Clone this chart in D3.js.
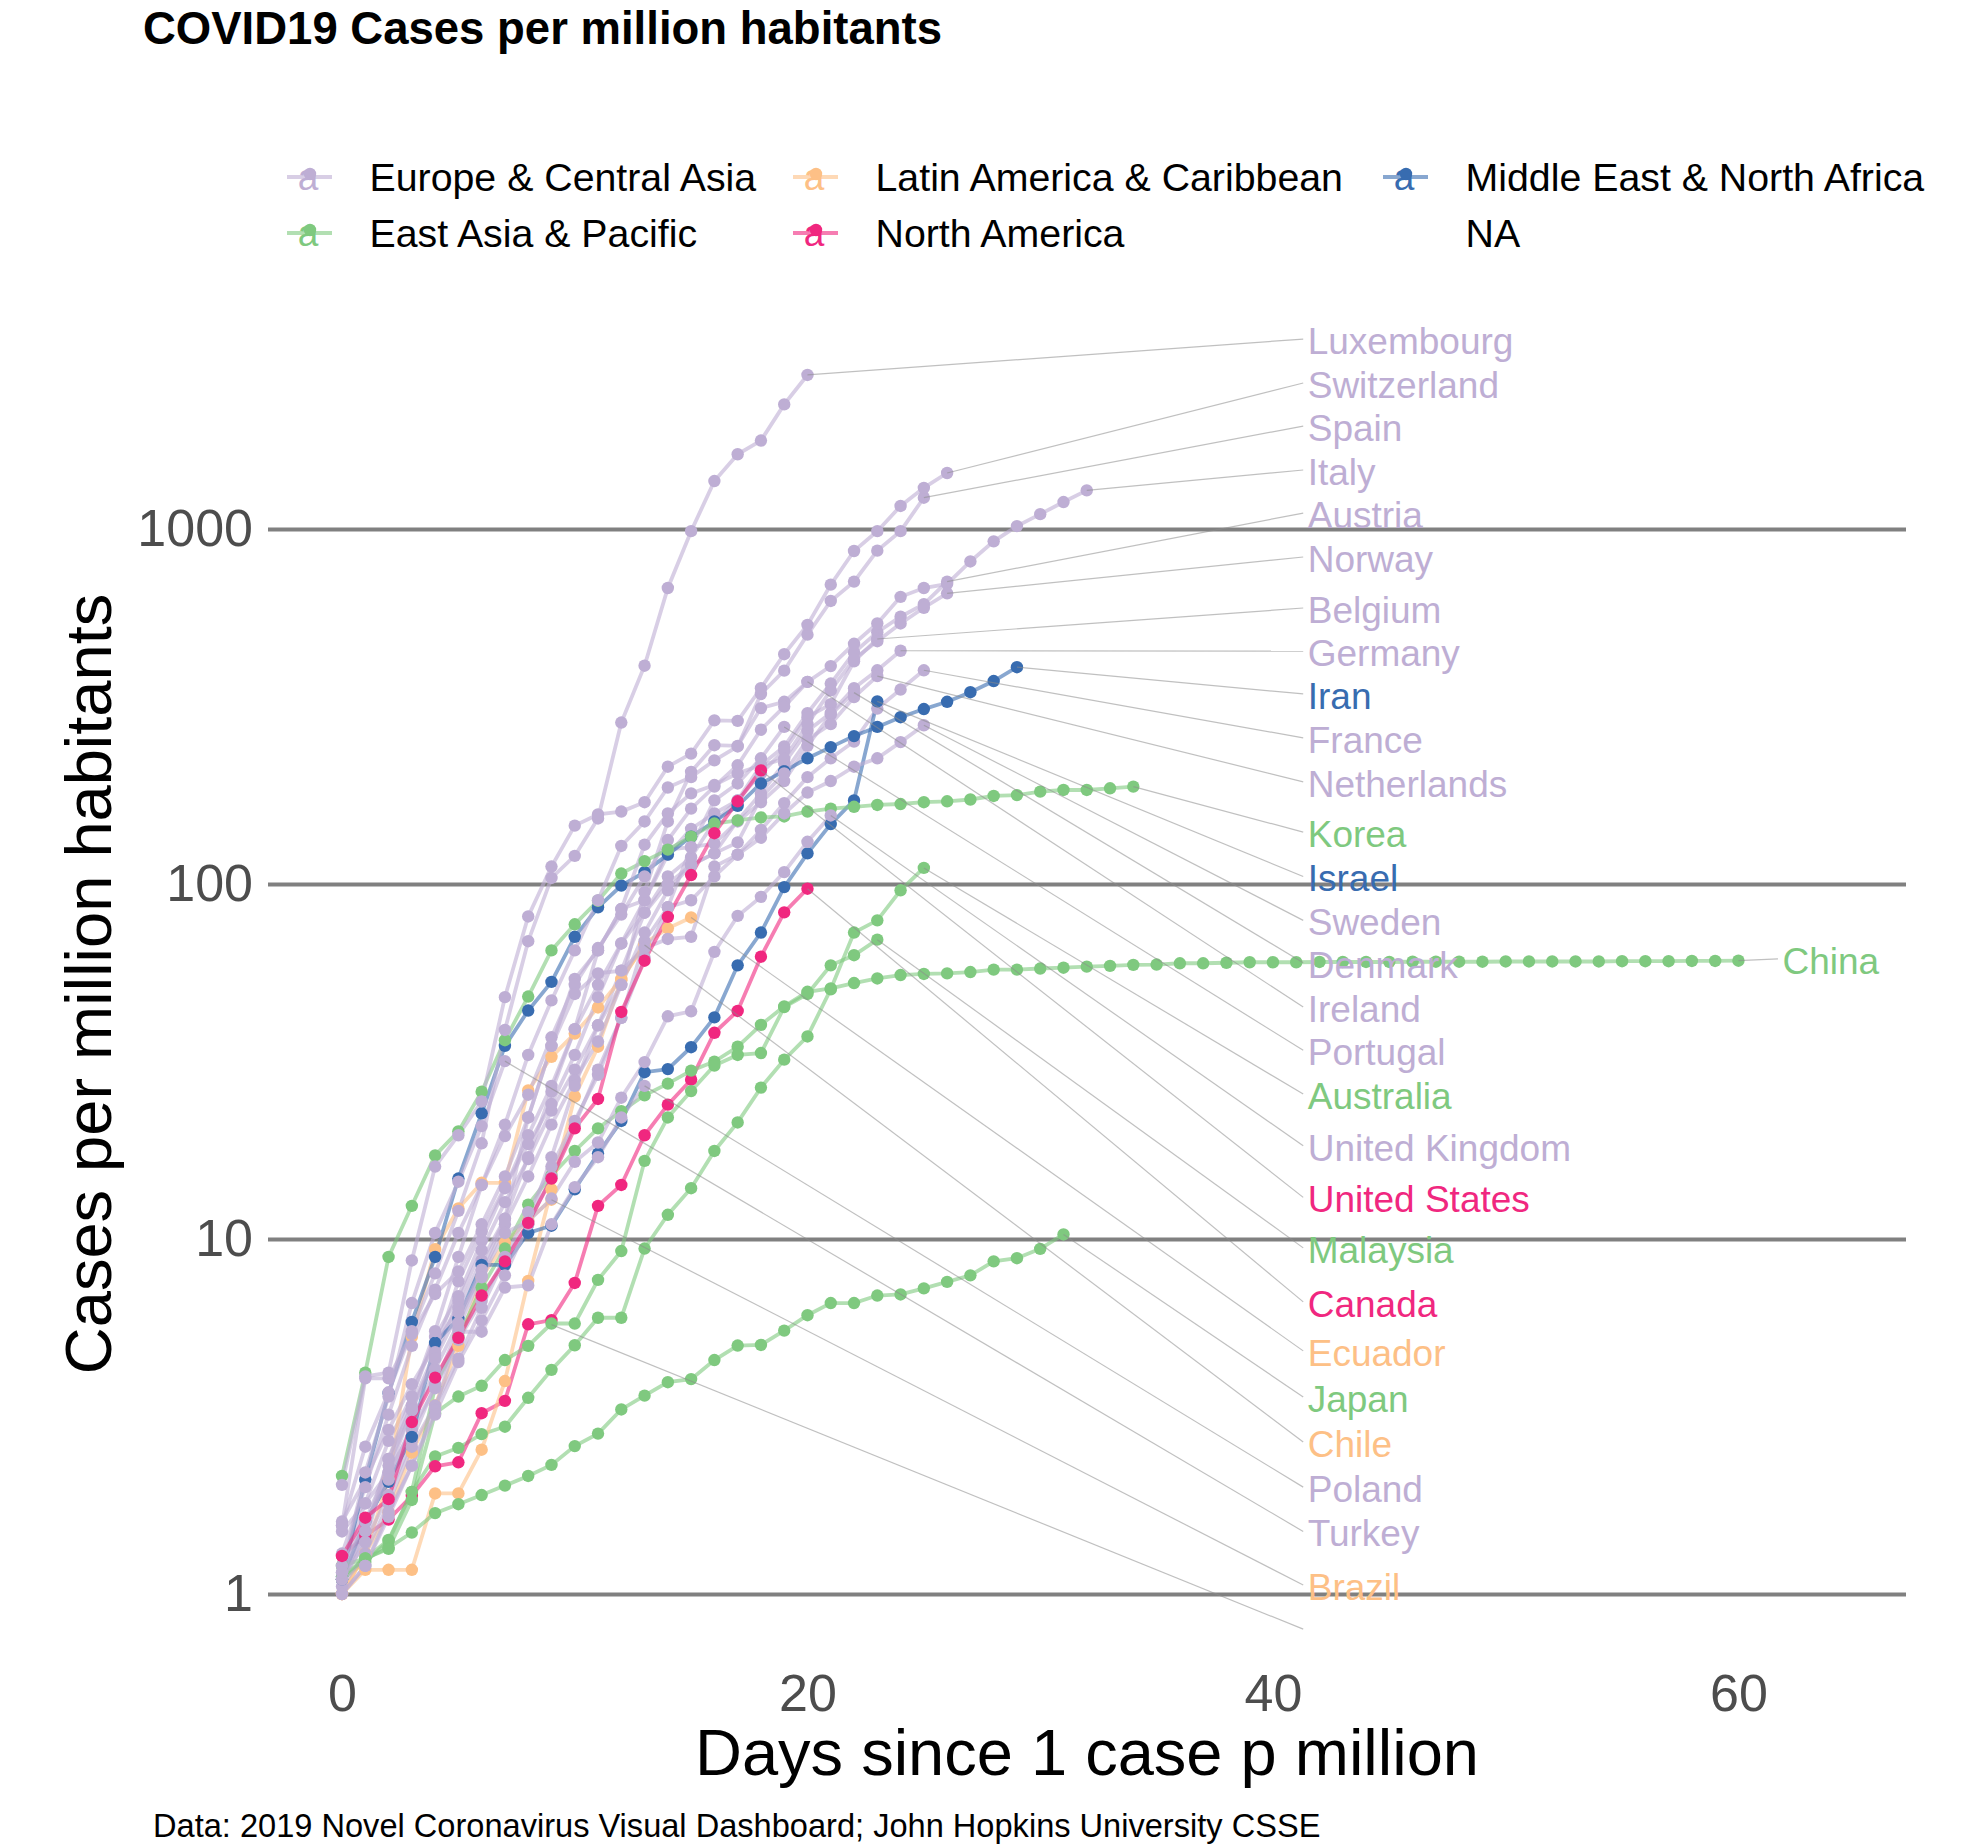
<!DOCTYPE html>
<html>
<head>
<meta charset="utf-8">
<script src="https://cdn.jsdelivr.net/npm/d3@7"></script>
<style>
  html, body { margin: 0; padding: 0; background: #fff; }
  text { font-family: "Liberation Sans", Arial, sans-serif; }
</style>
</head>
<body>
<svg id="chart" width="1984" height="1846"></svg>
<script>
// cases per million, one value per day since the 1 case p million mark
const australia = [1.1, 1.23, 1.41, 1.94, 2.44, 2.58, 2.82, 2.96, 3.57, 4.28, 5.02, 6, 6, 9.4, 11.7, 13.9, 17.7, 21.3, 26.7, 32, 37.2, 50.5, 73, 79, 96, 111]
const austria = [1.2, 1.8, 2.7, 3.6, 5.3, 6.9, 9.9, 13.9, 19.6, 27, 39, 52, 68, 90, 121, 143, 158, 172, 216, 244, 303, 367, 449, 512, 566, 614, 711]
const belgium = [1.1, 1.5, 2.2, 3.3, 4.7, 6.7, 9.3, 12.7, 16.8, 23, 30, 40, 57, 83, 105, 119, 150, 172, 205, 238, 295, 321, 424, 490]
const brazil = [1, 1.3, 1.7, 2.5, 3.4, 5, 7.8, 9.75, 11.3, 12.9]
const canada = [1.28, 1.46, 1.62, 1.89, 2.29, 2.35, 3.23, 3.5, 5.75, 5.91, 7.52, 12.4, 14.2, 19.6, 23.9, 28.1, 38.1, 43.9, 62.4, 83.2, 97]
const chile = [1, 1.3, 2.1, 5.3, 9.36, 12.2, 14.4, 14.4, 26.2, 32.6, 37.9, 44.9, 54, 67.3]
const china = [1.1, 1.26, 1.42, 1.94, 3.84, 5.3, 7.3, 9.4, 12.5, 15.1, 17.7, 20.5, 22.9, 25.4, 27.4, 29.8, 31.6, 34.8, 40.1, 45.2, 49.7, 50.8, 52.6, 54.2, 55.4, 55.8, 56, 56.5, 57.4, 57.4, 57.8, 58.1, 58.5, 58.8, 59.2, 59.3, 59.8, 59.8, 60, 60.2, 60.2, 60.2, 60.3, 60.3, 60.3, 60.3, 60.4, 60.4, 60.4, 60.4, 60.5, 60.5, 60.5, 60.5, 60.5, 60.6, 60.6, 60.6, 60.7, 60.7, 60.8]
const denmark = [1.6, 2.1, 2.9, 3.9, 5, 6.4, 8.7, 11.4, 22, 35, 54, 65, 85, 90, 125, 127, 130, 150, 170, 195, 245, 300, 346]
const ecuador = [1, 1.17, 1.17, 1.17, 1.92, 1.92, 2.55, 3.98, 7.62, 13.8, 25.2, 34.8, 53.6, 68, 75, 80.5]
const france = [1.5, 1.8, 2.2, 2.9, 3.8, 5.2, 6.7, 8.9, 11.9, 16, 21.5, 29, 42, 69, 86, 90, 105, 121, 142, 169, 200, 226, 252, 312, 353, 400]
const germany = [1.1, 1.4, 1.9, 2.7, 3.9, 5.6, 7.9, 11, 15, 21, 28, 36, 52, 73, 96, 113, 122, 151, 180, 219, 270, 303, 356, 400, 454]
const iran = [1.12, 2.1, 3.68, 5.84, 8.9, 14.8, 22.6, 35, 44, 53, 71, 86, 99, 108, 121, 136, 150, 166, 192, 208, 226, 243, 261, 277, 295, 311, 326, 347, 373, 408]
const ireland = [1.05, 1.3, 1.8, 2.6, 3.4, 4.6, 6.4, 8.8, 11, 17, 27, 40, 52, 95, 150, 207, 246, 245, 313, 326, 371]
const israel = [1.1, 1.6, 2.07, 2.77, 5.1, 5.96, 8.45, 8.45, 10.4, 10.9, 13.8, 17.4, 21.5, 29.5, 30.1, 34.7, 42.1, 59, 73, 98, 122, 147.5, 172, 327]
const italy = [1.3, 2, 3.2, 5, 7.2, 10.4, 14.2, 19.5, 25.5, 37, 52, 66, 82, 105, 133, 163, 188, 216, 272, 316, 371, 411, 475, 542, 644, 682, 700, 810, 923, 1019, 1101, 1191, 1285]
const japan = [1.2, 1.26, 1.35, 1.49, 1.69, 1.79, 1.9, 2.02, 2.15, 2.31, 2.61, 2.83, 3.31, 3.62, 3.95, 4.03, 4.56, 5.01, 5.03, 5.52, 6.1, 6.6, 6.6, 6.93, 6.98, 7.26, 7.57, 7.9, 8.65, 8.83, 9.38, 10.3]
const korea = [2.15, 4.2, 8.9, 12.4, 17.2, 20.1, 26, 36.3, 48.2, 65, 77, 89.7, 107, 116, 125, 136, 148, 151, 154, 155, 160, 163, 165, 167, 168, 170, 171, 173, 177, 178, 182, 184, 184, 186, 188]
const luxembourg = [1.56, 2.6, 3.7, 5.5, 8, 12, 18.6, 38.8, 69, 104, 120, 153, 285, 412, 682, 986, 1365, 1624, 1775, 2244, 2716]
const malaysia = [1.12, 1.26, 1.34, 1.84, 3.23, 3.6, 3.86, 4.56, 5, 5.78, 5.78, 7.67, 9.25, 16.6, 22, 26.1, 30.8, 33, 33.4, 45, 49, 59, 63, 69.7]
const netherlands = [1.1, 1.5, 2.4, 3.4, 4.8, 7.6, 10.5, 14, 18.5, 24, 33, 48, 68, 83, 100, 113, 122, 131, 175, 205, 255, 282, 336, 385]
const norway = [1.2, 1.6, 2.1, 3, 4.3, 5.8, 8.2, 11.4, 17, 26, 39, 65, 85, 129, 158, 180, 190, 205, 216, 225, 282, 351, 430, 483, 542, 600, 659]
const poland = [1, 1.2, 1.65, 2.3, 3.3, 5.48, 5.48, 7.3, 7.4, 11, 14, 17, 22, 27]
const portugal = [1, 1.2, 1.7, 2.3, 3.2, 4.5, 5.9, 7.9, 11, 15, 21, 30, 42, 62, 86, 127, 172, 192, 226, 277]
const spain = [1.1, 1.4, 2.4, 3.6, 5.5, 8.9, 14.2, 21, 33, 47, 65, 90, 128, 150, 187, 200, 223, 244, 343, 399, 504, 627, 711, 869, 986, 1225]
const sweden = [1.56, 4.05, 4.05, 5.4, 7, 8.1, 11, 15, 22, 35, 49, 56, 57, 66, 70, 71, 112, 121, 135, 158, 181, 195, 214, 226, 251, 280]
const switzerland = [2.03, 4.1, 4.2, 8.7, 16, 19.6, 24.4, 48, 81, 112, 146, 157, 160, 170, 214, 233, 289, 288, 356, 444, 537, 697, 867, 986, 1161, 1306, 1438]
const turkey = [1.15, 2.2, 3.6, 6.6, 10.4, 14.5, 20.8, 31.7]
const unitedKingdom = [1.15, 1.6, 2.3, 3.3, 4.6, 6.2, 7.8, 10.4, 11.2, 13, 16.5, 18.7, 25, 31.5, 42.4, 43.8, 64.4, 81.3, 92, 108, 131.5, 156]
const unitedStates = [1.28, 1.64, 1.85, 3.05, 4.07, 5.27, 6.93, 8.65, 11.1, 14.8, 20.5, 24.8, 43.6, 60.8, 80.8, 106, 139, 171, 209]

const countryNames = ['Australia', 'Austria', 'Belgium', 'Brazil', 'Canada', 'Chile', 'China', 'Denmark', 'Ecuador', 'France', 'Germany', 'Iran', 'Ireland', 'Israel', 'Italy', 'Japan', 'Korea', 'Luxembourg', 'Malaysia', 'Netherlands', 'Norway', 'Poland', 'Portugal', 'Spain', 'Sweden', 'Switzerland', 'Turkey', 'United Kingdom', 'United States']
const countryValues = [australia, austria, belgium, brazil, canada, chile, china, denmark, ecuador, france, germany, iran, ireland, israel, italy, japan, korea, luxembourg, malaysia, netherlands, norway, poland, portugal, spain, sweden, switzerland, turkey, unitedKingdom, unitedStates]

const EAP = 'East Asia & Pacific'
const ECA = 'Europe & Central Asia'
const LAC = 'Latin America & Caribbean'
const MNA = 'Middle East & North Africa'
const NAM = 'North America'
const countryRegions = [EAP, ECA, ECA, LAC, NAM, LAC, EAP, ECA, LAC, ECA, ECA, MNA, ECA, MNA, ECA, EAP, EAP, ECA, EAP, ECA, ECA, ECA, ECA, ECA, ECA, ECA, ECA, ECA, NAM]

// height of each repelled label, in cases per million
const labelLevels = [25.6, 1109, 599, 1.06, 6.65, 2.68, 61.5, 60, 4.84, 258, 453, 343, 45, 105, 1466, 3.59, 140, 3428, 9.44, 194, 834, 2, 34, 1950, 79, 2578, 1.5, 18.3, 13.1]

// the series without a region has an invisible colour, only its segment shows
const naLastDay = 9
const naLastValue = 5.74
const naLabelLevel = 0.796

const legendOrder = [ECA, EAP, LAC, NAM, MNA, 'NA']
const regionColors = [ECA, EAP, LAC, NAM, MNA]
const accent = ['#BEAED4', '#7FC97F', '#FDC086', '#F0277F', '#386CB0']

const xTicks = [0, 20, 40, 60]
const yTicks = [1, 10, 100, 1000]

const svg = d3.select('#chart')

const x = d3.scaleLinear()
  .domain([-3.18, 67.2])
  .range([268, 1906])

const y = d3.scaleLog()
  .domain([1, 1000])
  .range([1594, 529])

const color = d3.scaleOrdinal()
  .domain(regionColors)
  .range(accent)

const series = countryNames.map(function (name, i) {
  return {
    name: name,
    region: countryRegions[i],
    level: labelLevels[i],
    values: countryValues[i].map(function (v, day) { return { day: day, value: v } })
  }
})

// gridlines come from the y axis ticks
svg.append('g')
  .attr('class', 'y-axis')
  .attr('transform', 'translate(268,0)')
  .call(d3.axisLeft(y)
    .tickValues(yTicks)
    .tickFormat(d3.format('d'))
    .tickSize(-1638)
    .tickPadding(15))
  .call(function (g) { g.select('.domain').remove() })
  .call(function (g) {
    g.selectAll('line').attr('stroke', '#808080').attr('stroke-width', 3.8)
    g.selectAll('text').style('font-size', '52px').attr('fill', '#4d4d4d')
  })

svg.append('g')
  .attr('class', 'x-axis')
  .attr('transform', 'translate(0,1660)')
  .call(d3.axisBottom(x)
    .tickValues(xTicks)
    .tickSize(0)
    .tickPadding(14))
  .call(function (g) { g.select('.domain').remove() })
  .call(function (g) {
    g.selectAll('text').style('font-size', '52px').attr('fill', '#4d4d4d')
  })

const line = d3.line()
  .x(function (d) { return x(d.day) })
  .y(function (d) { return y(d.value) })

// lines first, then every point above them
svg.append('g')
  .selectAll('path')
  .data(series)
  .join('path')
  .attr('d', function (d) { return line(d.values) })
  .attr('fill', 'none')
  .attr('stroke', function (d) { return color(d.region) })
  .attr('stroke-width', 3.8)
  .attr('stroke-opacity', 0.6)

svg.append('g')
  .selectAll('g')
  .data(series)
  .join('g')
  .selectAll('circle')
  .data(function (d) { return d.values.map(function (v) { return { day: v.day, value: v.value, region: d.region } }) })
  .join('circle')
  .attr('cx', function (d) { return x(d.day) })
  .attr('cy', function (d) { return y(d.value) })
  .attr('r', 6.2)
  .attr('fill', function (d) { return color(d.region) })

// label segments and labels
const labelDay = 41.3
const chinaLabelDay = 61.7
function labelX (d) { return x(d.name === 'China' ? chinaLabelDay : labelDay) }

const segments = series.map(function (d) {
  const last = d.values[d.values.length - 1]
  return { x1: x(last.day), y1: y(last.value), x2: labelX(d), y2: y(d.level) }
})
segments.push({ x1: x(naLastDay), y1: y(naLastValue), x2: x(labelDay), y2: y(naLabelLevel) })

svg.append('g')
  .selectAll('line')
  .data(segments)
  .join('line')
  .attr('x1', function (d) { return d.x1 })
  .attr('y1', function (d) { return d.y1 })
  .attr('x2', function (d) { return d.x2 })
  .attr('y2', function (d) { return d.y2 })
  .attr('stroke', '#8c8c8c')
  .attr('stroke-width', 1.2)
  .attr('stroke-opacity', 0.55)

svg.append('g')
  .selectAll('text')
  .data(series)
  .join('text')
  .attr('x', function (d) { return labelX(d) + 4.5 })
  .attr('y', function (d) { return y(d.level) + 2 })
  .attr('dy', '0.35em')
  .style('font-size', '37px')
  .attr('fill', function (d) { return color(d.region) })
  .text(function (d) { return d.name })

// legend, filled column by column
const legendColumns = [310, 816, 1406]
const legendRows = [177, 233]
const legendTextOffset = 59.5

const legend = svg.append('g')
  .selectAll('g')
  .data(legendOrder)
  .join('g')
  .attr('transform', function (d, i) {
    return 'translate(' + legendColumns[Math.floor(i / 2)] + ',' + legendRows[i % 2] + ')'
  })

const legendKeys = legend.filter(function (d) { return d !== 'NA' })

legendKeys.append('line')
  .attr('x1', -23)
  .attr('x2', 22)
  .attr('stroke', function (d) { return color(d) })
  .attr('stroke-width', 3.8)
  .attr('stroke-opacity', 0.6)

legendKeys.append('text')
  .attr('x', -2)
  .attr('y', 13)
  .attr('text-anchor', 'middle')
  .style('font-size', '37px')
  .attr('fill', function (d) { return color(d) })
  .text('a')

legendKeys.append('circle')
  .attr('cy', -3)
  .attr('r', 6.2)
  .attr('fill', function (d) { return color(d) })

legend.append('text')
  .attr('x', legendTextOffset)
  .attr('dy', '0.35em')
  .style('font-size', '39.3px')
  .attr('fill', '#000')
  .text(function (d) { return d })

// titles
svg.append('text')
  .attr('x', 143)
  .attr('y', 44)
  .style('font-size', '45.5px')
  .style('font-weight', 'bold')
  .text('COVID19 Cases per million habitants')

svg.append('text')
  .attr('x', 1087)
  .attr('y', 1775)
  .attr('text-anchor', 'middle')
  .style('font-size', '65px')
  .text('Days since 1 case p million')

svg.append('text')
  .attr('transform', 'translate(111,984) rotate(-90)')
  .attr('text-anchor', 'middle')
  .style('font-size', '65px')
  .text('Cases per million habitants')

svg.append('text')
  .attr('x', 153)
  .attr('y', 1837)
  .style('font-size', '32.6px')
  .text('Data: 2019 Novel Coronavirus Visual Dashboard; John Hopkins University CSSE')
</script>
</body>
</html>
